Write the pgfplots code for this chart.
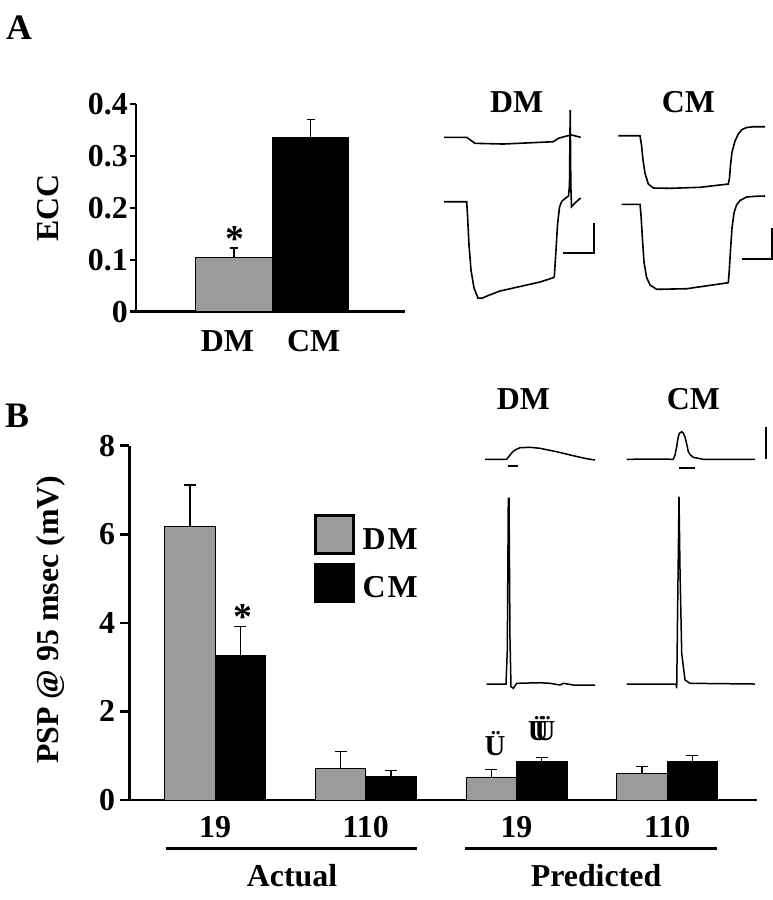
\documentclass[border=0pt]{standalone}
\usepackage{pgfplots}
\pgfplotsset{compat=1.18}
\usepackage{fontspec}
\setmainfont{Liberation Serif}
\definecolor{barg}{RGB}{155,155,155}
\newcommand{\bigf}{\fontsize{32}{38}\selectfont\bfseries}
\newcommand{\panf}{\fontsize{36}{42}\selectfont\bfseries}
\newcommand{\astf}{\fontsize{38}{44}\selectfont\bfseries}
\begin{document}
\begin{tikzpicture}[x=1bp,y=1bp]
% ---------------- Panel A bars ----------------
\begin{axis}[
  at={(136bp,-311.7bp)}, anchor=south west,
  scale only axis, width=269bp, height=207.7bp,
  xmin=-0.281, xmax=3.235, ymin=0, ymax=0.4,
  axis x line=bottom, axis y line=left,
  axis line style={line width=2.5bp, -},
  xtick={0.915,2.04}, xticklabels={DM,CM},
  ytick={0,0.1,0.2,0.3,0.4}, yticklabels={0,0.1,0.2,0.3,0.4},
  major tick length=6bp, tick align=outside,
  x tick style={draw=none},
  y tick style={line width=2.5bp, black},
  /pgf/number format/assume math mode=true,
  tick label style={font=\bigf, inner sep=0pt},
  xticklabel style={anchor=base, yshift=-34bp},
  yticklabel style={anchor=east, xshift=-2bp},
  ylabel={ECC},
  ylabel style={font=\bigf, at={(axis description cs:-0.326,0.498)}, anchor=center, inner sep=0pt},
  clip=false,
]
\addplot[ybar, bar width=1, bar shift=0pt, fill=barg, draw=black, line width=0.9bp,
  error bars/.cd, y dir=plus, y explicit,
  error bar style={line width=1.4bp, black},
  error mark options={rotate=90, mark size=4bp, line width=1.4bp, black}]
  coordinates {(1,0.105) +- (0,0.018)};
\addplot[ybar, bar width=1, bar shift=0pt, fill=black, draw=black, line width=0.9bp,
  error bars/.cd, y dir=plus, y explicit,
  error bar style={line width=1.4bp, black},
  error mark options={rotate=90, mark size=4bp, line width=1.4bp, black}]
  coordinates {(2,0.336) +- (0,0.034)};
\end{axis}
% ---------------- Panel B bars ----------------
\begin{axis}[
  at={(129.3bp,-800bp)}, anchor=south west,
  scale only axis, width=627.7bp, height=354.3bp,
  xmin=0.431, xmax=4.596, ymin=0, ymax=8,
  axis x line=bottom, axis y line=left,
  axis line style={line width=2.5bp, -},
  xtick={1,2,3,4}, xticklabels={19,110,19,110},
  ytick={0,2,4,6,8},
  major tick length=9bp, tick align=outside,
  x tick style={draw=none},
  y tick style={line width=2.5bp, black},
  /pgf/number format/assume math mode=true,
  tick label style={font=\bigf, inner sep=0pt},
  xticklabel style={anchor=base, yshift=-28bp},
  yticklabel style={anchor=east, xshift=-5bp},
  ylabel={PSP @ 95 msec (mV)},
  ylabel style={font=\bigf, at={(axis description cs:-0.125,0.509)}, anchor=center, inner sep=0pt},
  legend style={at={(axis description cs:0.2943,0.8064)}, anchor=north west, draw=none, fill=none,
    inner sep=0pt, outer sep=0pt, font=\bigf, row sep=2bp,
    nodes={inner sep=0pt},
    /tikz/every odd column/.append style={column sep=8bp}},
  legend cell align=left,
  legend image code/.code={\draw[#1, line width=2.6bp] (0bp,-9bp) rectangle (38bp,29bp);},
  clip=false,
]
\addplot[ybar, bar width=0.335, bar shift=0pt, fill=barg, draw=black, line width=0.9bp,
  error bars/.cd, y dir=plus, y explicit,
  error bar style={line width=1.4bp, black},
  error mark options={rotate=90, mark size=6bp, line width=1.4bp, black}]
  coordinates {(0.8325,6.17) +- (0,0.94) (1.8325,0.71) +- (0,0.38) (2.8325,0.52) +- (0,0.17) (3.8325,0.59) +- (0,0.16)};
\addlegendentry{\raisebox{10bp}{D\kern2bp M}}
\addplot[ybar, bar width=0.335, bar shift=0pt, fill=black, draw=black, line width=0.9bp,
  error bars/.cd, y dir=plus, y explicit,
  error bar style={line width=1.4bp, black},
  error mark options={rotate=90, mark size=6bp, line width=1.4bp, black}]
  coordinates {(1.1675,3.26) +- (0,0.66) (2.1675,0.53) +- (0,0.13) (3.1675,0.865) +- (0,0.09) (4.1675,0.86) +- (0,0.15)};
\addlegendentry{\raisebox{10bp}{C\kern2bp M}}
\end{axis}
% ---------------- Overlay: traces and annotations (pixel coordinates) ----------------
\begin{axis}[
  at={(0bp,-900bp)}, anchor=south west,
  scale only axis, width=773bp, height=900bp,
  xmin=0, xmax=773, ymin=0, ymax=900, y dir=reverse,
  hide axis, clip=false,
]
% Panel A traces
\addplot[black, line width=1.6bp] coordinates {(444,137.3) (466.7,137.3) (475,143.3) (503.3,144) (553.3,141.7) (558.3,138.3) (566.7,136) (571.7,135) (580.7,137.3)};
\addplot[black, line width=1.6bp] coordinates {(444,201.7) (466.7,201.7) (467.5,215) (469,245) (471,270) (474,288) (478,298) (481.7,298.3) (487,296) (500,291) (520,286.5) (540,282) (553.3,277.7) (554.3,276.7) (556,250) (557.5,225) (559.5,207) (561.7,201.5) (565,198.5) (568.5,196) (569.5,185) (570.2,110) (570.8,185) (571.5,206.7) (573,205) (576,202) (580.7,198)};
\addplot[black, line width=1.6bp] coordinates {(618.3,135.7) (640,135.7) (641.5,145) (643,160) (645,173.3) (648.3,184) (653.3,188) (670,188.3) (700,187.3) (728.3,184) (729.5,178) (730.5,165) (732,152) (735,141) (738.3,134) (742,129.5) (746.7,127.5) (753.3,126.7) (765,126.7)};
\addplot[black, line width=1.6bp] coordinates {(621.7,204.3) (640,204.3) (641,215) (642.5,240) (644,262) (646.5,277) (650,285) (656.7,289.3) (686.7,288.7) (728.3,282.7) (729.3,270) (730.5,250) (732,228) (734,213) (736.5,205) (740,200.5) (746.7,197) (755,196.3) (765,196)};
\addplot[black, line width=1.8bp] coordinates {(563.3,252.7) (594.3,252.7) (594.3,223.3)};
\addplot[black, line width=1.8bp] coordinates {(741.7,259) (772.3,259) (772.3,228.3)};
% Panel B traces
\addplot[black, line width=1.5bp] coordinates {(485,459.3) (506.7,459.3) (508.5,457) (510,455) (512.5,452) (515,450) (520,447.7) (530,447.3) (540,448.3) (556.7,451.7) (573.3,455.7) (586.7,458.7) (595,460)};
\addplot[black, line width=1.8bp] coordinates {(508.3,465.7) (518.3,465.7)};
\addplot[black, line width=1.5bp] coordinates {(626.7,459.3) (656.7,459) (673.3,459.3) (675,455) (676.7,446.7) (678,438) (679.3,433.3) (681.7,431.7) (683.3,433.3) (685,436.7) (686.7,444) (688.3,451.7) (690.5,455) (693.3,457.3) (703.3,459.3) (755,459.3)};
\addplot[black, line width=1.8bp] coordinates {(679.3,468.3) (695,468.3)};
\addplot[black, line width=1.8bp] coordinates {(766,426.7) (766,459.3)};
\addplot[black, line width=1.5bp] coordinates {(486.7,684) (506,684) (507.3,650) (508.3,498.3) (509,498.3) (510,640) (511,686.7) (513.3,688.3) (516.7,683.3) (540,682.7) (550,683.3) (560,685) (563.3,683.3) (573.3,685) (595,685)};
\addplot[black, line width=1.5bp] coordinates {(626.7,684) (676,684) (676.7,688.3) (677.7,603.3) (679,496.7) (680,570) (681.7,653.3) (685,680) (690,683.3) (755,684)};
% group underlines
\addplot[black, line width=3bp] coordinates {(166,848) (417,848)};
\addplot[black, line width=3bp] coordinates {(465,848) (717,848)};
% text
\node[font=\panf, inner sep=0pt] at (axis cs:19,28) {A};
\node[font=\panf, inner sep=0pt] at (axis cs:17,416) {B};
\node[font=\bigf, inner sep=0pt] at (axis cs:516.7,101.7) {DM};
\node[font=\bigf, inner sep=0pt] at (axis cs:688.3,101.7) {CM};
\node[font=\bigf, inner sep=0pt] at (axis cs:523.3,398.8) {DM};
\node[font=\bigf, inner sep=0pt] at (axis cs:693.3,398.8) {CM};
\node[font=\bigf, inner sep=0pt] at (axis cs:292,876) {Actual};
\node[font=\bigf, inner sep=0pt] at (axis cs:596,876) {Predicted};
\node[font=\astf, inner sep=0pt, anchor=north] at (axis cs:235,226) {*};
\node[font=\astf, inner sep=0pt, anchor=north] at (axis cs:243,604) {*};
\node[font=\fontsize{29}{34}\selectfont\bfseries, inner sep=0pt] at (axis cs:495,744) {Ü};
\node[font=\fontsize{29}{34}\selectfont\bfseries, inner sep=0pt] at (axis cs:541.7,729) {\rlap{Ü}\kern0.24em Ü};
\end{axis}
\pgfresetboundingbox
\path[use as bounding box] (0bp,0bp) rectangle (773bp,-900bp);
\end{tikzpicture}
\end{document}
